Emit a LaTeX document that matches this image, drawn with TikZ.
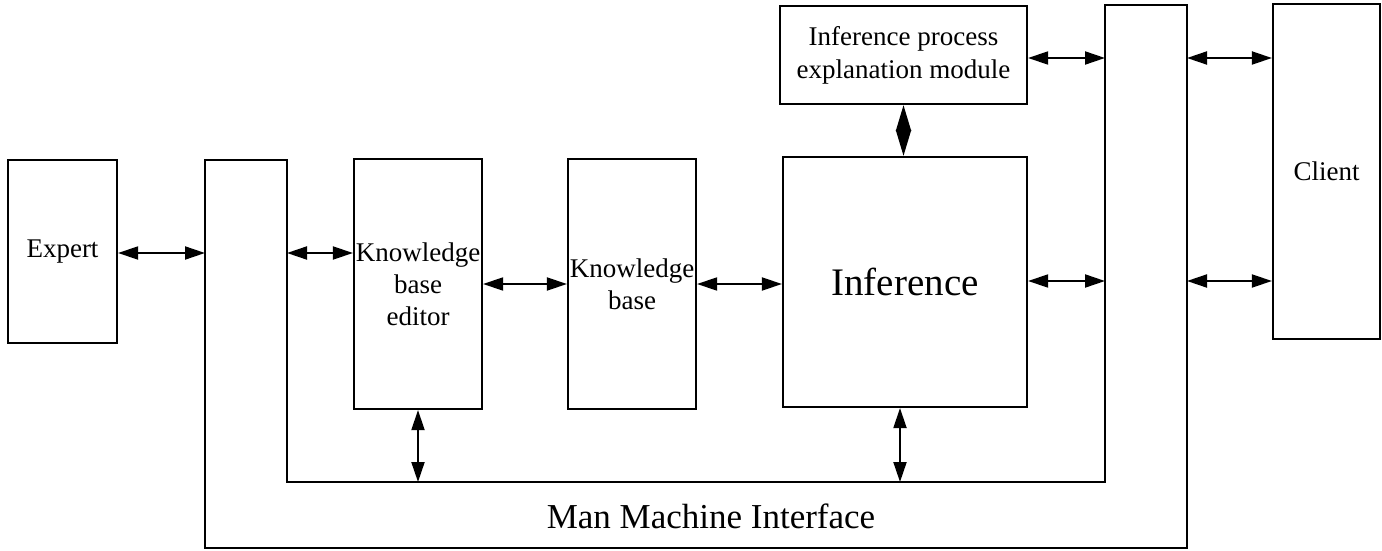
\documentclass[tikz,border=0pt]{standalone}
\usepackage{fontspec}
\setmainfont{Liberation Serif}
\usetikzlibrary{arrows.meta}
\begin{document}
\begin{tikzpicture}[x=0.5pt,y=-0.5pt,
  box/.style={draw,line width=1.1pt,inner sep=0pt,align=center,font=\fontsize{13.5}{16}\selectfont},
  conn/.style={line width=1pt,{Triangle[length=10pt,width=6.5pt]}-{Triangle[length=10pt,width=6.5pt]}},
  dconn/.style={line width=1pt,{Triangle[length=13pt,width=7.5pt]}-{Triangle[length=13pt,width=7.5pt]}},
  mmi/.style={draw,line width=1.1pt,line join=miter}
]
\useasboundingbox (0,0) rectangle (1382,551);

% boxes
\node[box,minimum width=54.5pt,minimum height=91.5pt] (expert) at (62.5,251.5) {Expert};
\node[box,minimum width=64pt,minimum height=125pt] (kbe) at (418,284) {Knowledge\\base\\editor};
\node[box,minimum width=64pt,minimum height=125pt] (kb) at (632,284) {Knowledge\\base};
\node[box,minimum width=122pt,minimum height=125pt,font=\fontsize{19.5}{22}\selectfont] (inf) at (905,282) {Inference};
\node[box,minimum width=123.5pt,minimum height=49pt,font=\fontsize{13.5}{16.5}\selectfont] (expl) at (903.5,55) {Inference process\\explanation module};
\node[box,minimum width=53.5pt,minimum height=167.5pt] (client) at (1326.5,171.5) {Client};

% man machine interface outline
\draw[mmi] (205,160) -- (205,548) -- (1187,548) -- (1187,5) -- (1105,5) -- (1105,482) -- (287,482) -- (287,160) -- cycle;
\node[font=\fontsize{17.5}{20}\selectfont] (mmitext) at (711,516) {Man Machine Interface};

% attachment points on the interface
\coordinate (mL) at (205,253);
\coordinate (mLi) at (287,253);
\coordinate (mB1) at (418,482);
\coordinate (mB2) at (900,482);
\coordinate (mR1) at (1105,58);
\coordinate (mR2) at (1105,281);
\coordinate (mO1) at (1187,58);
\coordinate (mO2) at (1187,281);

% connectors
\draw[conn] (expert.east |- mL) -- (mL);
\draw[conn] (mLi) -- (kbe.west |- mLi);
\draw[conn] (kbe.east) -- (kb.west);
\draw[conn] (kb.east) -- (kb.east -| inf.west);
\draw[conn] (inf.east |- mR2) -- (mR2);
\draw[conn] (expl.east |- mR1) -- (mR1);
\draw[conn] (mO1) -- (client.west |- mO1);
\draw[conn] (mO2) -- (client.west |- mO2);
\draw[conn] (kbe.south) -- (mB1);
\draw[conn] (mB2 |- inf.south) -- (mB2);
\draw[dconn] (expl.south) -- (expl.south |- inf.north);
\end{tikzpicture}
\end{document}
